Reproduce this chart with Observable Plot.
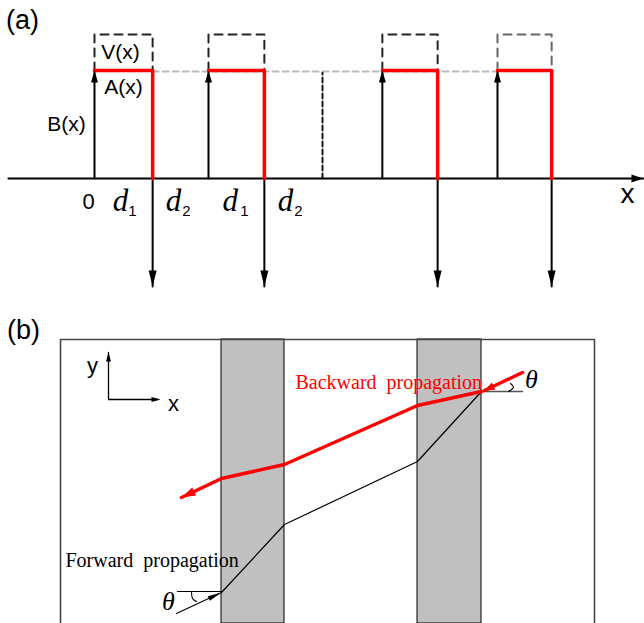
<!DOCTYPE html>
<html><head><meta charset="utf-8">
<script src="https://cdn.jsdelivr.net/npm/d3@7"></script>
<script src="https://cdn.jsdelivr.net/npm/@observablehq/plot@0.6"></script>
<style>body{margin:0;background:#fff} svg{display:block}</style>
</head><body><div id="a"></div><div id="b"></div>
<script>
// ---------- Panel (a) data (x in units of d, y in units of A) ----------
const cellStart = [0, 2, 5.05, 7.07];
const cellEnd   = [1.02, 2.98, 6.02, 8.02];
const boxTone   = ["#222", "#222", "#222", "#666"];
const ampA = 1, ampV = 1.333, ampDown = -1, cutLevel = 0.98, cutAt = 4.0;
const axisFrom = -1.51, axisTo = 9.63;
const dGlyph = [{t:"d", sub:"1", x:0.456, xs:0.667},{t:"d", sub:"2", x:1.386, xs:1.614},
                {t:"d", sub:"1", x:2.38,  xs:2.632},{t:"d", sub:"2", x:3.35,  xs:3.579}];
const labelsA = [{t:"V(x)", x:0.456, y:1.167},{t:"A(x)", x:0.509, y:0.843},{t:"B(x)", x:-0.491, y:0.5}];

// ---------- Panel (b) data ----------
const box = {x1: 60, x2: 594, top: 284};
const bands = [{x1: 221, x2: 284}, {x1: 417, x2: 481}];
const forwardRay = [{x:176,y:10},{x:221,y:31},{x:284,y:99},{x:417,y:162},{x:481,y:232}];
const backwardRay = [{x:481,y:232},{x:417,y:218},{x:284,y:159},{x:221,y:145},{x:181,y:126}];
const backIncident = [{x:522,y:251},{x:484,y:233}];
const refForward = [{x:177,y:32},{x:221,y:32}];
const refBackward = [{x:481,y:232},{x:522,y:232}];
const arcForward = [{x:191,y:31},{x:192,y:25},{x:196,y:22}];
const arcBackward = [{x:508,y:232},{x:513,y:236},{x:510,y:240}];

const sans = "Liberation Sans, Arial, sans-serif";
const serif = "Liberation Serif, Times New Roman, serif";

function head(L, W) {
  return {draw(ctx) { ctx.moveTo(0, 0); ctx.lineTo(W/2, L); ctx.lineTo(-W/2, L); ctx.closePath(); }};
}
const ang = (dx, dy) => Math.atan2(dx, dy) * 180 / Math.PI;

// ---------- Panel (a) ----------
const cells = cellStart.map((s, i) => ({s, e: cellEnd[i], tone: boxTone[i]}));
const marksA = [
  Plot.line([{x: cellEnd[0], y: 0.99}, {x: cellStart[3], y: 0.99}], {x:"x", y:"y", stroke:"#bbb", strokeWidth:2, strokeDasharray:"6,4"}),
  Plot.line([{x: cutAt, y: 0}, {x: cutAt, y: cutLevel}], {x:"x", y:"y", stroke:"#111", strokeWidth:2, strokeDasharray:"5,3"}),
  Plot.line([{x: axisFrom, y: 0}, {x: axisTo, y: 0}], {x:"x", y:"y", stroke:"black", strokeWidth:2}),
  Plot.dot([{x: axisTo, y: 0}], {x:"x", y:"y", r:1, symbol: head(12, 8), fill:"black", rotate: ang(1, 0)}),
];
cells.forEach(c => {
  marksA.push(
    Plot.line([{x:c.s,y:ampA},{x:c.s,y:ampV},{x:c.e,y:ampV},{x:c.e,y:ampA}], {x:"x", y:"y", stroke:c.tone, strokeWidth:2, strokeDasharray:"8,6"}),
    Plot.line([{x:c.s,y:0},{x:c.s,y:ampA}], {x:"x", y:"y", stroke:"black", strokeWidth:2}),
    Plot.line([{x:c.e,y:0},{x:c.e,y:ampDown}], {x:"x", y:"y", stroke:"black", strokeWidth:2}),
    Plot.line([{x:c.s,y:ampA},{x:c.e,y:ampA},{x:c.e,y:0}], {x:"x", y:"y", stroke:"#ff0000", strokeWidth:3.5}),
  );
});
marksA.push(
  Plot.dot(cells, {x:"s", y:() => ampA, r:1, symbol: head(12, 7), fill:"black", rotate: 0}),
  Plot.dot(cells, {x:"e", y:() => ampDown, r:1, symbol: head(16, 8), fill:"black", rotate: 180}),
  Plot.text(labelsA, {x:"x", y:"y", text:"t", fontSize:21, fontFamily:sans, fill:"black"}),
  Plot.text(["0"], {x:-0.105, y:-0.213, text:d=>d, fontSize:22, fontFamily:sans, fill:"black"}),
  Plot.text(["x"], {x:9.351, y:-0.148, text:d=>d, fontSize:28, fontFamily:sans, fill:"black"}),
  Plot.text(["(a)"], {x:-1.263, y:1.463, text:d=>d, fontSize:27, fontFamily:sans, fill:"black"}),
  Plot.text(dGlyph, {x:"x", y:() => -0.213, text:"t", fontSize:31, fontFamily:serif, fontStyle:"italic", fill:"black"}),
  Plot.text(dGlyph, {x:"xs", y:() => -0.3, text:"sub", fontSize:15, fontFamily:sans, fill:"black"}),
);
document.getElementById("a").append(Plot.plot({
  width: 644, height: 310, margin: 0,
  x: {domain: [-1.649, 9.649], axis: null},
  y: {domain: [-1.222, 1.648], axis: null},
  marks: marksA
}));

// ---------- Panel (b) ----------
const fwdLast = forwardRay[1], fwdPrev = forwardRay[0];
const bkLast = backwardRay[backwardRay.length-1], bkPrev = backwardRay[backwardRay.length-2];
const marksB = [
  Plot.rect(bands, {x1:"x1", x2:"x2", y1:() => 0, y2:() => box.top, fill:"#c0c0c0", stroke:"black", strokeWidth:1}),
  Plot.line([{x:box.x1,y:0},{x:box.x1,y:box.top},{x:box.x2,y:box.top},{x:box.x2,y:0}], {x:"x", y:"y", stroke:"#444", strokeWidth:1.6}),
  Plot.line([{x:108,y:271},{x:108,y:224},{x:157,y:224}], {x:"x", y:"y", stroke:"black", strokeWidth:1.3}),
  Plot.dot([{x:108,y:271,r:0},{x:160,y:224,r:90}], {x:"x", y:"y", r:1, symbol: head(9, 5), fill:"black", rotate:"r"}),
  Plot.text(["y"], {x:92, y:258, text:d=>d, fontSize:22, fontFamily:sans, fill:"black"}),
  Plot.text(["x"], {x:173, y:220, text:d=>d, fontSize:22, fontFamily:sans, fill:"black"}),
  Plot.text(["(b)"], {x:23, y:293, text:d=>d, fontSize:27, fontFamily:sans, fill:"black"}),
  Plot.line(refForward, {x:"x", y:"y", stroke:"black", strokeWidth:1.2}),
  Plot.line(arcForward, {x:"x", y:"y", stroke:"black", strokeWidth:1.1, curve:"natural"}),
  Plot.line(forwardRay, {x:"x", y:"y", stroke:"black", strokeWidth:1.2}),
  Plot.dot([fwdLast], {x:"x", y:"y", r:1, symbol: head(14, 5), fill:"black", rotate: ang(fwdLast.x-fwdPrev.x, fwdLast.y-fwdPrev.y)}),
  Plot.line(refBackward, {x:"x", y:"y", stroke:"#555", strokeWidth:1.4}),
  Plot.line(arcBackward, {x:"x", y:"y", stroke:"black", strokeWidth:1.1, curve:"natural"}),
  Plot.line(backwardRay, {x:"x", y:"y", stroke:"#ff0000", strokeWidth:3.5, strokeLinejoin:"round"}),
  Plot.line(backIncident, {x:"x", y:"y", stroke:"#ff0000", strokeWidth:3.5}),
  Plot.dot([backIncident[1]], {x:"x", y:"y", r:1, symbol: head(10, 8), fill:"#ff0000", rotate: ang(backIncident[1].x-backIncident[0].x, backIncident[1].y-backIncident[0].y)}),
  Plot.dot([bkLast], {x:"x", y:"y", r:1, symbol: head(14, 9), fill:"#ff0000", rotate: ang(bkLast.x-bkPrev.x, bkLast.y-bkPrev.y)}),
  Plot.text(["Backward  propagation"], {x:295, y:241, text:d=>d, textAnchor:"start", fontSize:20, fontFamily:serif, fill:"#ff0000"}),
  Plot.text(["Forward  propagation"], {x:65, y:63, text:d=>d, textAnchor:"start", fontSize:20, fontFamily:serif, fill:"black"}),
  Plot.text(["θ", "θ"], {x:[168, 531], y:[22, 244], text:d=>d, fontSize:26, fontFamily:serif, fontStyle:"italic", fill:"black"}),
];
document.getElementById("b").append(Plot.plot({
  width: 644, height: 313, margin: 0,
  x: {domain: [0, 644], axis: null},
  y: {domain: [0, 313], axis: null},
  marks: marksB
}));
</script></body></html>
